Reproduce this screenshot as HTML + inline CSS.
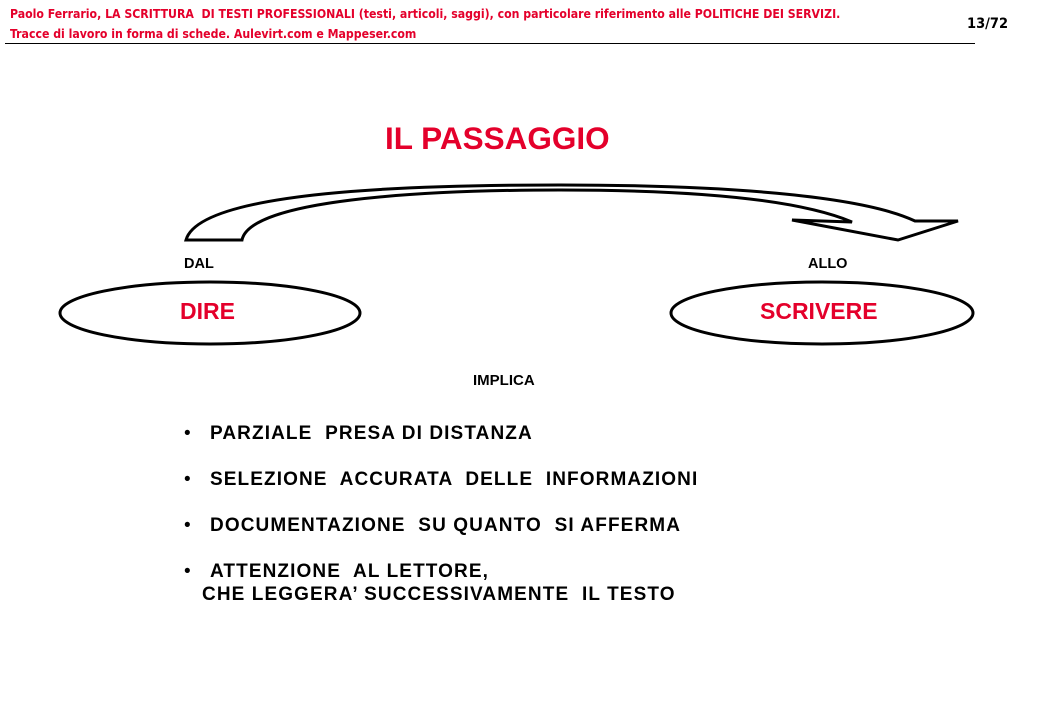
<!DOCTYPE html>
<html><head><meta charset="utf-8"><style>
body{margin:0;width:1040px;height:720px;background:#fff;position:relative;font-family:"Liberation Sans",sans-serif;overflow:hidden}
.a{position:absolute;white-space:pre}
.h{color:#e4002b;font-size:12.2px;font-weight:bold;font-family:"DejaVu Sans Condensed","Liberation Sans Narrow","Liberation Sans",sans-serif}
.b{font-weight:bold;font-size:19px;color:#000;letter-spacing:1.1px}
</style></head><body>
<div class="a h" style="left:10px;top:7px">Paolo Ferrario, LA SCRITTURA  DI TESTI PROFESSIONALI (testi, articoli, saggi), con particolare riferimento alle POLITICHE DEI SERVIZI.</div>
<div class="a h" style="left:10px;top:27px">Tracce di lavoro in forma di schede. Aulevirt.com e Mappeser.com</div>
<div class="a" style="left:967px;top:16px;font-size:14.5px;font-weight:bold;font-family:'DejaVu Sans Condensed',sans-serif">13/72</div>
<div class="a" style="left:5px;top:43px;width:970px;height:1px;background:#000"></div>
<div class="a" style="left:385px;top:120px;font-size:31.5px;font-weight:bold;color:#e4002b">IL PASSAGGIO</div>
<svg class="a" style="left:0;top:0" width="1040" height="720">
<path d="M186,240 C200,190 420,185 560,185 C720,185 860,195 915,221 L958,221 L898,240 L792,220 L852,222 C800,200 700,190 560,190 C420,190 250,200 242,240 Z" fill="#fff" stroke="#000" stroke-width="3" stroke-linejoin="miter"/>
<ellipse cx="210" cy="313" rx="150" ry="31" fill="#fff" stroke="#000" stroke-width="3"/>
<ellipse cx="822" cy="313" rx="151" ry="31" fill="#fff" stroke="#000" stroke-width="3"/>
</svg>
<div class="a" style="left:184px;top:256px;font-size:14.5px;font-weight:bold">DAL</div>
<div class="a" style="left:808px;top:256px;font-size:14.5px;font-weight:bold">ALLO</div>
<div class="a" style="left:180px;top:298px;font-size:23px;font-weight:bold;color:#e4002b">DIRE</div>
<div class="a" style="left:760px;top:298px;font-size:23px;font-weight:bold;color:#e4002b">SCRIVERE</div>
<div class="a" style="left:473px;top:372px;font-size:15px;font-weight:bold">IMPLICA</div>
<div class="a" style="left:184px;top:423px;font-size:19px">•</div>
<div class="a" style="left:184px;top:469px;font-size:19px">•</div>
<div class="a" style="left:184px;top:515px;font-size:19px">•</div>
<div class="a" style="left:184px;top:561px;font-size:19px">•</div>
<div class="a b" style="left:210px;top:423px">PARZIALE  PRESA DI DISTANZA</div>
<div class="a b" style="left:210px;top:469px">SELEZIONE  ACCURATA  DELLE  INFORMAZIONI</div>
<div class="a b" style="left:210px;top:515px">DOCUMENTAZIONE  SU QUANTO  SI AFFERMA</div>
<div class="a b" style="left:210px;top:561px">ATTENZIONE  AL LETTORE,</div>
<div class="a b" style="left:202px;top:584px">CHE LEGGERA’ SUCCESSIVAMENTE  IL TESTO</div>
</body></html>
